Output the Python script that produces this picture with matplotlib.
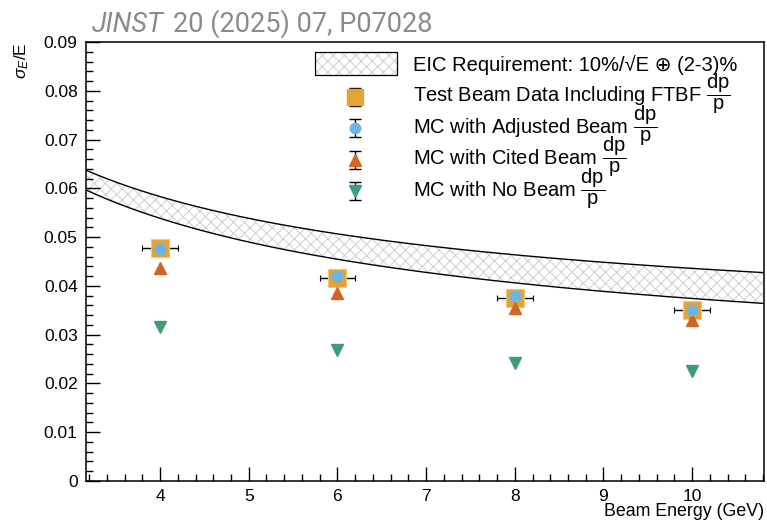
import numpy as np
import matplotlib
matplotlib.use("Agg")
from matplotlib import pyplot as plt
from matplotlib.ticker import MultipleLocator, FuncFormatter
from matplotlib.patches import Rectangle

plt.rcParams['font.family'] = ['Liberation Sans', 'DejaVu Sans']
plt.rcParams['mathtext.fontset'] = 'custom'
plt.rcParams['mathtext.rm'] = 'Liberation Sans'
plt.rcParams['mathtext.it'] = 'Liberation Sans:italic'
plt.rcParams['mathtext.sf'] = 'Liberation Sans'

# beam energies (GeV)
energy = [4, 6, 8, 10]
energy_err = [0.2, 0.2, 0.2, 0.2]

# resolution sigma_E/E
test_beam = [0.0478, 0.0416, 0.0376, 0.0350]
test_beam_err = [0.0006, 0.0006, 0.0006, 0.0006]
mc_adjusted = [0.0476, 0.0420, 0.0380, 0.0351]
mc_cited = [0.0437, 0.0386, 0.0354, 0.0331]
mc_none = [0.0316, 0.0269, 0.0241, 0.0226]

# EIC requirement: stochastic 10% / sqrt(E) (+) constant 2-3 %
stoch_term = 0.10
const_low = 0.02
const_high = 0.03

W, H = 767, 522
fig = plt.figure(figsize=(W/100, H/100), dpi=100)
ax = fig.add_axes([86/W, 1-481/H, (764-86)/W, (481-42)/H])

xmin, xmax = 3.165, 10.81
e_line = np.linspace(xmin, xmax, 300)
low = np.sqrt(stoch_term**2/e_line + const_low**2)
high = np.sqrt(stoch_term**2/e_line + const_high**2)

hatch_grey = '#c8c8c8'
plt.rcParams['hatch.linewidth'] = 0.6
ax.fill_between(e_line, low, high, facecolor='white', edgecolor=hatch_grey,
                hatch='xxx', linewidth=0)
ax.plot(e_line, low, color='black', lw=1)
ax.plot(e_line, high, color='black', lw=1)

c_sq = '#e2a437'
c_ci = '#6cb4e6'
c_tr = '#d06527'
c_dn = '#3f9d74'

ax.errorbar(energy, test_beam, xerr=energy_err, yerr=test_beam_err, fmt='s',
            ms=12.5, mfc=c_sq, mec='#f0c878', mew=0.8, ecolor='black',
            elinewidth=1, capsize=2.5, zorder=3)
ax.plot(energy, mc_cited, '^', ms=9, color=c_tr, zorder=3.5)
ax.plot(energy, mc_adjusted, 'o', ms=7.5, color=c_ci, zorder=4)
ax.plot(energy, mc_none, 'v', ms=9, color=c_dn, zorder=3)

ax.set_xlim(xmin, xmax)
ax.set_ylim(0, 0.09)

# ---- ROOT style legend, fixed row pitch (texts may overhang rows) ----
def fx(px):
    return (px - 86) / 678

def fy(py):
    return (481 - py) / 439

frac = r'$\dfrac{\mathrm{dp}}{\mathrm{p}}$'
leg_labels = ['EIC Requirement: 10%/\u221aE \u2295 (2-3)%',
              'Test Beam Data Including FTBF ' + frac,
              'MC with Adjusted Beam ' + frac,
              'MC with Cited Beam ' + frac,
              'MC with No Beam ' + frac]
leg_markers = [None, 's', 'o', '^', 'v']
leg_sizes = [0, 11.5, 7.5, 8.5, 8.5]
leg_colors = [None, c_sq, c_ci, c_tr, c_dn]
row0, pitch = 71, 31.5
key_x, text_x = 355, 413

for i, lab in enumerate(leg_labels):
    base = row0 + i * pitch
    ax.text(fx(text_x), fy(base), lab, transform=ax.transAxes, fontsize=14.5,
            va='baseline', ha='left')
    if leg_markers[i] is None:
        box = ((fx(315), fy(base + 4)), fx(397) - fx(315),
               fy(base - 19) - fy(base + 4))
        ax.add_patch(Rectangle(*box, transform=ax.transAxes, facecolor='white',
                               edgecolor=hatch_grey, hatch='xxx', lw=0))
        ax.add_patch(Rectangle(*box, transform=ax.transAxes, facecolor='none',
                               edgecolor='black', lw=0.9))
    else:
        yc = fy(base - 6)
        ax.errorbar([fx(key_x)], [yc], yerr=[9/439], fmt=leg_markers[i],
                    ms=leg_sizes[i], color=leg_colors[i], ecolor='black',
                    elinewidth=1, capsize=4, transform=ax.transAxes,
                    clip_on=False, zorder=5)

ax.xaxis.set_major_locator(MultipleLocator(1))
ax.xaxis.set_minor_locator(MultipleLocator(0.2))
ax.yaxis.set_major_locator(MultipleLocator(0.01))
ax.yaxis.set_minor_locator(MultipleLocator(0.002))
ax.yaxis.set_major_formatter(FuncFormatter(lambda v, p: '%g' % round(v, 3)))
ax.tick_params(which='both', direction='in', top=False, right=False,
               labelsize=12.5, width=1)
ax.tick_params(which='major', length=10, pad=6)
ax.tick_params(which='minor', length=5)
for s in ax.spines.values():
    s.set_linewidth(1.1)

fig.text(764/W, 1-512/H, 'Beam Energy (GeV)', ha='right', va='center',
         fontsize=12.8)
fig.text(22/W, 1-42/H, r'$\sigma_{E}$/E', rotation=90, ha='center',
         va='top', fontsize=12.5)

t1 = fig.text(92/W, 1-32/H, 'JINST', style='italic', color='#8a8a8a',
              fontsize=19.5, family='Roboto', va='baseline')
fig.canvas.draw()
bb = t1.get_window_extent()
fig.text((bb.x1 + 9)/W, 1-32/H, '20 (2025) 07, P07028', color='#8a8a8a',
         fontsize=19.5, family='Roboto', va='baseline')

fig.savefig('out.png', dpi=100)
